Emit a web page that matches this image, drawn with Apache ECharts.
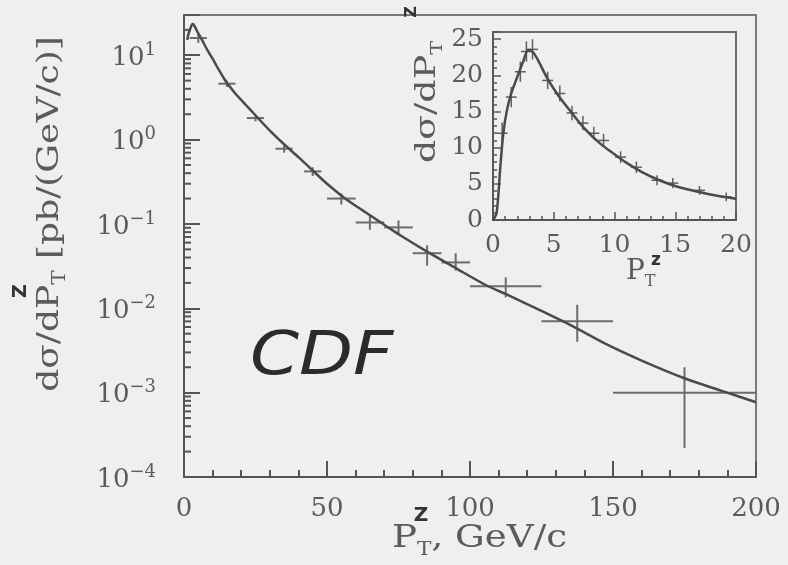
<!DOCTYPE html>
<html>
<head>
<meta charset="utf-8">
<script src="https://cdn.jsdelivr.net/npm/echarts@6/dist/echarts.min.js"></script>
<style>
  html, body { margin: 0; padding: 0; background: #efeef0; }
  #chart { width: 788px; height: 565px; }
</style>
</head>
<body>
<div id="chart"></div>
<script>
// theory curve, shared by the main plot and the inset
const theoryX = [0, 0.3, 0.6, 0.85, 1.15, 1.5, 2, 2.5, 2.9, 3.3, 3.8, 4.4, 5.3, 6.3, 7.5, 8.8, 10, 11, 12.3, 13.7,
  15, 16.5, 18, 20, 23, 26, 30, 35, 40, 45, 50, 56, 62, 70, 76, 85, 95, 106, 113, 125, 136, 148, 160, 175, 188, 200];
const theoryY = [0, 1, 7.3, 12, 15.2, 17.5, 19.8, 22, 23.5, 23.2, 21.8, 19.8, 17.4, 15.2, 12.7, 10.6, 9.1, 7.9, 6.6, 5.5,
  4.7, 4.05, 3.5, 2.95, 2.3, 1.78, 1.28, 0.88, 0.62, 0.43, 0.30, 0.205, 0.148, 0.098, 0.072, 0.047, 0.030, 0.0185, 0.0145, 0.0093,
  0.0061, 0.0037, 0.0024, 0.00148, 0.00105, 0.00077];

// main plot data points (bin centre, value, bin edges, error band)
const mainX   = [5, 15, 25, 35, 45, 55, 65, 75, 85, 95, 112.5, 137.5, 175];
const mainY   = [16, 4.6, 1.8, 0.78, 0.42, 0.20, 0.104, 0.091, 0.045, 0.035, 0.0182, 0.0070, 0.0010];
const mainXLo = [2, 12, 22, 32, 42, 50, 60, 70, 80, 90, 100, 125, 150];
const mainXHi = [8, 18, 28, 38, 48, 60, 70, 80, 90, 100, 125, 150, 200];
const mainYLo = [14, 4.2, 1.65, 0.70, 0.37, 0.17, 0.085, 0.075, 0.032, 0.028, 0.0135, 0.0040, 0.00022];
const mainYHi = [18, 5.0, 1.95, 0.86, 0.47, 0.23, 0.125, 0.11, 0.056, 0.045, 0.0233, 0.011, 0.0020];

// inset data points (low pT, linear scale)
const insetX   = [0.75, 1.5, 2.25, 2.75, 3.25, 4.5, 5.5, 6.5, 7.4, 8.3, 9.1, 10.5, 11.8, 13.5, 14.8, 17, 19.2];
const insetY   = [12, 17, 20.5, 23.3, 23.6, 19.3, 17.5, 14.8, 13.4, 12, 11, 8.7, 7.3, 5.5, 5.1, 4.1, 3.2];
const insetErr = [1.5, 1.4, 1.4, 1.4, 1.4, 1.2, 1.1, 1, 1, 0.9, 0.9, 0.8, 0.8, 0.7, 0.7, 0.6, 0.6];

// axis tick labels
const mainXTicks = [0, 50, 100, 150, 200];
const insetTicks = [0, 5, 10, 15, 20, 25];

const ink = '#555';
const textInk = '#5b5b5b';
const serif = '"DejaVu Serif", serif';

const chart = echarts.init(document.getElementById('chart'));

const theoryPairs = theoryX.map((x, i) => [x, theoryY[i]]);
const mainCurve = theoryPairs.filter(p => p[0] >= 1.15);
const insetCurve = theoryPairs.filter(p => p[0] <= 20);

const mainPoints = mainX.map((x, i) => [x, mainY[i], mainXLo[i], mainXHi[i], mainYLo[i], mainYHi[i]]);
const insetPoints = insetX.map((x, i) => [x, insetY[i], x - 0.45, x + 0.45, insetY[i] - insetErr[i], insetY[i] + insetErr[i]]);

// log minor ticks 2..9 for every decade on the main y axis
const logMinor = [];
for (let d = -4; d <= 1; d++) {
  for (let k = 2; k <= 9; k++) {
    const v = k * Math.pow(10, d);
    if (v < 30) logMinor.push([0, v]);
  }
}

function crossItem(color, width) {
  return function (params, api) {
    const y = api.value(1);
    const l = api.coord([api.value(2), y]);
    const r = api.coord([api.value(3), y]);
    const t = api.coord([api.value(0), api.value(5)]);
    const b = api.coord([api.value(0), api.value(4)]);
    const style = { stroke: color, lineWidth: width };
    return {
      type: 'group',
      children: [
        { type: 'line', shape: { x1: l[0], y1: l[1], x2: r[0], y2: r[1] }, style: style },
        { type: 'line', shape: { x1: t[0], y1: t[1], x2: b[0], y2: b[1] }, style: style }
      ]
    };
  };
}

function powLabel(v) {
  const lg = Math.log10(v);
  const n = Math.round(lg);
  if (Math.abs(lg - n) > 1e-6) return '';
  return '{b|10}{s|' + (n < 0 ? '\u2212' + (-n) : n) + '}';
}

function titleRich(big, small) {
  return {
    a: { fontFamily: serif, fontSize: big, lineHeight: Math.round(big * 1.3), fill: textInk },
    s: { fontFamily: serif, fontSize: small, lineHeight: small, verticalAlign: 'bottom', fill: textInk }
  };
}

const option = {
  backgroundColor: '#efeef0',
  animation: false,
  grid: [
    { left: 184, right: 32, top: 15, bottom: 88, show: true, borderColor: '#7a7a7a', borderWidth: 2, backgroundColor: 'transparent' },
    { left: 493, top: 32, width: 243, height: 188, show: true, borderColor: '#6a6a6a', borderWidth: 2, backgroundColor: 'transparent' }
  ],
  xAxis: [
    {
      type: 'value', gridIndex: 0, min: 0, max: 200, interval: 50,
      axisLine: { lineStyle: { color: ink, width: 2 } },
      axisTick: { inside: true, length: 16, lineStyle: { color: ink, width: 2 } },
      minorTick: { show: true, splitNumber: 5, length: 7, lineStyle: { color: ink, width: 2 } },
      splitLine: { show: false },
      axisLabel: {
        margin: 19, color: textInk, fontFamily: serif, fontSize: 26,
        formatter: v => (mainXTicks.indexOf(v) >= 0 ? String(v) : '')
      }
    },
    {
      type: 'value', gridIndex: 1, min: 0, max: 20, interval: 5,
      axisLine: { lineStyle: { color: ink, width: 2 } },
      axisTick: { inside: true, length: 8, lineStyle: { color: ink, width: 1.5 } },
      minorTick: { show: true, splitNumber: 5, length: 4, lineStyle: { color: ink, width: 1.5 } },
      splitLine: { show: false },
      axisLabel: { margin: 13, color: textInk, fontFamily: serif, fontSize: 25 }
    }
  ],
  yAxis: [
    {
      type: 'log', gridIndex: 0, min: 1e-4, max: 30, logBase: 10,
      axisLine: { lineStyle: { color: ink, width: 2 } },
      axisTick: { inside: true, length: 16, lineStyle: { color: ink, width: 2 } },
      splitLine: { show: false },
      axisLabel: {
        margin: 28, color: textInk, fontFamily: serif,
        formatter: powLabel,
        padding: [6, 0, 0, 0],
        rich: {
          b: { fontFamily: serif, fontSize: 26, lineHeight: 34, color: textInk },
          s: { fontFamily: serif, fontSize: 18, lineHeight: 18, verticalAlign: 'top', color: textInk }
        }
      }
    },
    {
      type: 'value', gridIndex: 1, min: 0, max: 26, interval: 5,
      axisLine: { lineStyle: { color: ink, width: 2 } },
      axisTick: { inside: true, length: 8, lineStyle: { color: ink, width: 1.5 } },
      minorTick: { show: true, splitNumber: 5, length: 4, lineStyle: { color: ink, width: 1.5 } },
      splitLine: { show: false },
      axisLabel: {
        margin: 10, color: textInk, fontFamily: serif, fontSize: 25,
        formatter: v => (insetTicks.indexOf(v) >= 0 ? String(v) : '')
      }
    }
  ],
  series: [
    {
      type: 'custom', xAxisIndex: 0, yAxisIndex: 0, data: logMinor, silent: true,
      renderItem: (params, api) => {
        const p = api.coord([api.value(0), api.value(1)]);
        return { type: 'line', shape: { x1: p[0], y1: p[1], x2: p[0] + 7, y2: p[1] }, style: { stroke: ink, lineWidth: 2 } };
      }
    },
    {
      type: 'line', xAxisIndex: 0, yAxisIndex: 0, data: mainCurve,
      showSymbol: false, smooth: 0.3, lineStyle: { color: '#4a4a4a', width: 2.5 }
    },
    {
      type: 'custom', xAxisIndex: 0, yAxisIndex: 0, data: mainPoints,
      renderItem: crossItem('#6c6c6c', 2)
    },
    {
      type: 'line', xAxisIndex: 1, yAxisIndex: 1, data: insetCurve,
      showSymbol: false, smooth: 0.3, lineStyle: { color: '#4a4a4a', width: 2.5 }
    },
    {
      type: 'custom', xAxisIndex: 1, yAxisIndex: 1, data: insetPoints,
      renderItem: crossItem('#5e5e5e', 1.5)
    }
  ],
  graphic: [
    // main y-axis title
    {
      type: 'text', x: 50, y: 214, rotation: Math.PI / 2, scaleX: 1.2,
      style: {
        text: '{a|d\u03c3/dP}{s|T}{a| [pb/(GeV/c)]}',
        textAlign: 'center', textVerticalAlign: 'middle', fill: textInk,
        rich: titleRich(30, 18)
      }
    },
    { type: 'text', x: 21, y: 291, rotation: Math.PI / 2,
      style: { text: 'Z', font: 'bold 19px "DejaVu Sans"', fill: '#333', textAlign: 'center', textVerticalAlign: 'middle' } },
    // main x-axis title
    {
      type: 'text', x: 392, y: 539, scaleX: 1.2,
      style: {
        text: '{a|P}{s|T}{a|, GeV/c}',
        textAlign: 'left', textVerticalAlign: 'middle', fill: textInk,
        rich: titleRich(31, 18)
      }
    },
    { type: 'text', x: 421, y: 516,
      style: { text: 'Z', font: 'bold 20px "DejaVu Sans"', fill: '#333', textAlign: 'center', textVerticalAlign: 'middle' } },
    // inset y-axis title
    {
      type: 'text', x: 428, y: 102, rotation: Math.PI / 2, scaleX: 1.3,
      style: {
        text: '{a|d\u03c3/dP}{s|T}',
        textAlign: 'center', textVerticalAlign: 'middle', fill: textInk,
        rich: titleRich(28, 16)
      }
    },
    { type: 'text', x: 412, y: 12, rotation: Math.PI / 2,
      style: { text: 'Z', font: 'bold 16px "DejaVu Sans"', fill: '#333', textAlign: 'center', textVerticalAlign: 'middle' } },
    // inset x-axis title
    {
      type: 'text', x: 626, y: 272,
      style: {
        text: '{a|P}{s|T}',
        textAlign: 'left', textVerticalAlign: 'middle', fill: textInk,
        rich: titleRich(28, 16)
      }
    },
    { type: 'text', x: 656, y: 261,
      style: { text: 'z', font: 'bold 17px "DejaVu Sans"', fill: '#333', textAlign: 'center', textVerticalAlign: 'middle' } },
    // experiment label
    { type: 'text', x: 250, y: 358, scaleX: 1.17,
      style: { text: 'CDF', font: 'italic 60px "DejaVu Sans"', fill: '#2b2b2b', textAlign: 'left', textVerticalAlign: 'middle' } }
  ]
};

chart.setOption(option);
</script>
</body>
</html>
